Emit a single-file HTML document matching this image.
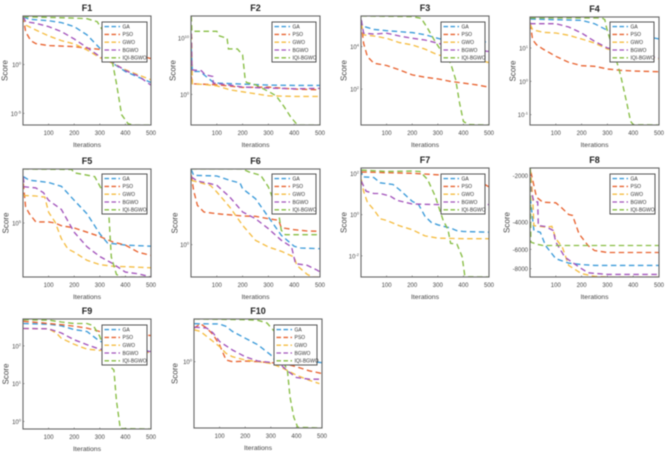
<!DOCTYPE html>
<html>
<head>
<meta charset="utf-8">
<title>Convergence curves F1-F10</title>
<style>
html,body{margin:0;padding:0;background:#fff;width:669px;height:452px;overflow:hidden}
svg{display:block;filter:blur(0.45px);font-family:"Liberation Sans",sans-serif}
</style>
</head>
<body>
<svg id="figure" xmlns="http://www.w3.org/2000/svg" width="669" height="452" viewBox="0 0 669 452"></svg>
<script>
// Shared labels
const seriesNames = ['GA','PSO','GWO','BGWO','IQI-BGWO'];
const xTickValues = [100,200,300,400,500];

// Panel values: *X = iterations; *Y = log10(score), except F8, which holds the score itself
const f1GaX=[1,25,100,150,200,250,300,350,400,450,500];
const f1GaY=[4.9,4.63,4.49,4.29,3.88,3.03,1.67,0.14,-0.71,-1.29,-1.84];
const f1PsoX=[1,10,30,50,100,200,250,300,350,400,450,500];
const f1PsoY=[4.9,3.37,2.45,2.14,1.94,1.84,1.67,1.56,1.5,1.22,0.95,0.61];
const f1GwoX=[1,10,50,100,150,200,250,300,350,400,450,500];
const f1GwoY=[4.9,4.05,3.54,2.93,2.45,2.11,1.5,0.71,0.14,-0.54,-1.05,-1.56];
const f1BgwoX=[1,10,50,100,150,200,250,300,350,400,450,500];
const f1BgwoY=[4.9,4.39,4.22,3.88,3.37,2.62,1.73,0.82,0.2,-0.61,-1.16,-2.11];
const f1IqiX=[1,100,200,250,290,310,330,350,365,385,410,430,500];
const f1IqiY=[4.9,4.83,4.76,4.69,4.39,3.54,1.84,0.14,-1.9,-5.14,-6.05,-6.19,-6.19];
const f1Ticks=[0,-5];

const f2GaX=[1,5,35,85,100,200,300,400,500];
const f2GaY=[8.47,4.06,4.06,2.2,2,1.82,1.65,1.59,1.59];
const f2PsoX=[1,5,100,200,300,400,500];
const f2PsoY=[3.18,1.88,1.7,1.24,1.29,0.94,0.82];
const f2GwoX=[1,3,5,50,100,150,200,250,300,400,500];
const f2GwoY=[13.88,7.88,1.88,1.76,1.53,0.82,0.47,0.12,-0.24,-0.35,-0.35];
const f2BgwoX=[1,4,40,55,85,86,150,200,300,400,500];
const f2BgwoY=[10.8,4.35,4.2,3.47,3.18,2,1.65,1.29,1.12,1,1.06];
const f2IqiX=[1,3,100,110,140,145,180,200,210,215,250,300,330,360,385,410,420,500];
const f2IqiY=[13.88,11.18,11.18,10.35,9.94,8.06,8.06,7,2.59,2.12,1.7,0.53,-0.24,-2.12,-3.88,-5.29,-5.41,-5.41];
const f2Ticks=[0,10];

const f3GaX=[1,5,50,100,200,250,300,350,400,500];
const f3GaY=[5.25,4.97,4.81,4.75,4.66,4.56,4.39,4.23,4.22,4.22];
const f3PsoX=[1,10,25,50,100,150,200,250,300,350,400,450,500];
const f3PsoY=[5.09,4.16,3.53,3.22,3.11,2.91,2.67,2.56,2.48,2.36,2.28,2.2,2.09];
const f3GwoX=[1,10,50,100,150,200,250,300,350,400,450,500];
const f3GwoY=[5.09,4.55,4.5,4.39,4.19,4.08,3.88,3.61,3.5,3.45,3.38,3.25];
const f3BgwoX=[1,10,50,100,150,200,250,300,350,400,450,500];
const f3BgwoY=[5.25,4.63,4.59,4.63,4.5,4.39,4.31,4.16,4,3.92,3.84,3.77];
const f3IqiX=[1,200,235,260,290,320,350,370,385,400,420,500];
const f3IqiY=[5.44,5.41,5.33,4.86,4.23,3.69,3.22,2.44,1.34,0.48,0.33,0.31];
const f3Ticks=[4,2];

const f4GaX=[1,100,200,250,300,350,400,450,500];
const f4GaY=[1.87,1.85,1.83,1.73,1.53,1.45,1.4,1.35,1.27];
const f4PsoX=[1,10,25,50,100,150,200,250,300,350,400,500];
const f4PsoY=[1.73,1.25,1.1,0.97,0.75,0.57,0.47,0.45,0.37,0.33,0.31,0.29];
const f4GwoX=[1,10,50,100,150,200,250,300,350,400,450,500];
const f4GwoY=[1.7,1.55,1.47,1.45,1.38,1.27,1.15,0.97,0.9,0.83,0.75,0.67];
const f4BgwoX=[1,5,100,150,200,250,300,350,400,450,500];
const f4BgwoY=[1.75,1.73,1.73,1.63,1.45,1.2,1,0.95,0.85,0.77,0.7];
const f4IqiX=[1,280,290,297,346,355,375,390,400,500];
const f4IqiY=[1.9,1.9,1.85,1.6,0.33,0.05,-0.65,-1.2,-1.3,-1.31];
const f4Ticks=[1,0,-1];

const f5GaX=[1,25,50,100,150,200,250,300,330,400,500];
const f5GaY=[5.86,5.79,5.78,5.75,5.68,5.42,5.17,4.8,4.63,4.59,4.57];
const f5PsoX=[1,10,25,50,100,125,150,200,250,300,350,400,450,500];
const f5PsoY=[5.73,5.3,5.17,5.02,5.02,5,4.95,4.91,4.83,4.75,4.65,4.59,4.46,4.4];
const f5GwoX=[1,50,85,100,125,150,175,200,250,300,350,400,500];
const f5GwoY=[5.51,5.5,5.48,5.2,5.02,4.71,4.52,4.46,4.31,4.23,4.2,4.19,4.17];
const f5BgwoX=[1,5,50,80,100,150,200,250,300,350,400,450,500];
const f5BgwoY=[5.85,5.67,5.65,5.56,5.42,5.25,4.83,4.56,4.38,4.25,4.09,4.06,4];
const f5IqiX=[1,190,200,280,305,335,345,365,380,500];
const f5IqiY=[6,5.99,5.93,5.86,5.64,5.17,4.37,4.05,4,4];
const f5Ticks=[5];

const f6GaX=[1,10,100,150,190,200,250,300,350,400,425,500];
const f6GaY=[1.125,1.04,1.03,0.965,0.925,0.84,0.69,0.415,0.14,-0.025,-0.05,-0.06];
const f6PsoX=[1,10,25,50,100,200,250,300,340,350,400,450,500];
const f6PsoY=[1.04,0.815,0.59,0.49,0.465,0.43,0.425,0.39,0.365,0.255,0.225,0.205,0.2];
const f6GwoX=[1,50,75,100,150,200,250,300,350,400,410,450,470,500];
const f6GwoY=[0.965,0.915,0.89,0.79,0.565,0.29,0.065,-0.035,-0.1,-0.185,-0.31,-0.445,-0.485,-0.485];
const f6BgwoX=[1,25,75,100,150,200,250,300,350,390,405,450,490,500];
const f6BgwoY=[1.015,0.955,0.915,0.89,0.715,0.49,0.39,0.24,0.065,-0.035,-0.285,-0.31,-0.385,-0.41];
const f6IqiX=[1,200,225,270,300,340,350,365,500];
const f6IqiY=[1.135,1.135,1.09,1.04,0.865,0.465,0.215,0.15,0.15];
const f6Ticks=[0];

const f7GaX=[1,5,50,75,125,150,200,225,250,275,300,350,375,400,500];
const f7GaY=[2.2,1.84,1.81,1.55,1.47,1.22,0.65,0.49,-0.08,-0.38,-0.49,-0.65,-0.78,-0.82,-0.85];
const f7PsoX=[1,25,100,200,300,350,400,450,500];
const f7PsoY=[2.07,2.07,2.04,2.01,1.94,1.94,1.88,1.71,1.35];
const f7GwoX=[1,10,25,50,75,100,150,200,250,300,400,500];
const f7GwoY=[1.71,1.14,0.6,0.24,-0.2,-0.28,-0.54,-0.73,-1.03,-1.14,-1.17,-1.17];
const f7BgwoX=[1,20,50,75,115,140,200,300,400,500];
const f7BgwoY=[1.63,1.14,1.03,1.03,0.9,0.7,0.52,0.49,0.49,0.49];
const f7IqiX=[1,100,200,230,260,290,320,340,350,375,395,405,420,500];
const f7IqiY=[2.17,2.1,2.12,2.1,1.71,0.9,-0.24,-0.73,-1.39,-1.44,-2.04,-2.94,-3.02,-3.03];
const f7Ticks=[2,0,-2];

const f8GaX=[1,15,40,60,100,150,200,250,500];
const f8GaY=[-2800,-4530,-4650,-5660,-6890,-7360,-7530,-7620,-7620];
const f8PsoX=[1,5,25,50,100,120,150,165,190,225,250,300,500];
const f8PsoY=[-2000,-1950,-2760,-2970,-3000,-3200,-3570,-3620,-4760,-5660,-6100,-6280,-6280];
const f8GwoX=[1,10,15,60,85,100,125,150,200,250,300,500];
const f8GwoY=[-1800,-2700,-4210,-4310,-4260,-5120,-5800,-7620,-8620,-8960,-9050,-9050];
const f8BgwoX=[1,5,15,30,32,60,90,100,135,190,225,300,500];
const f8BgwoY=[-2050,-2540,-2950,-2960,-4210,-4270,-4530,-5380,-6730,-7800,-8500,-8700,-8700];
const f8IqiX=[1,3,30,50,100,500];
const f8IqiY=[-1800,-5380,-5570,-5660,-5660,-5660];
const f8Ticks=[-2000,-4000,-6000,-8000];

const f9GaX=[1,100,150,200,250,300,350,450,500];
const f9GaY=[2.59,2.57,2.53,2.43,2.38,2.12,2.03,1.99,1.82];
const f9PsoX=[1,100,150,200,250,300,350,400,450,500];
const f9PsoY=[2.65,2.59,2.56,2.52,2.47,2.38,2.34,2.34,2.31,2.27];
const f9GwoX=[1,100,130,150,200,250,300,350,500];
const f9GwoY=[2.46,2.45,2.34,2.2,2.04,1.91,1.88,1.91,1.82];
const f9BgwoX=[1,100,150,200,250,300,350,500];
const f9BgwoY=[2.46,2.45,2.34,2.16,2.03,1.91,1.89,1.85];
const f9IqiX=[1,100,150,200,250,275,300,340,355,365,380,500];
const f9IqiY=[2.69,2.68,2.63,2.59,2.59,2.53,2.25,1.45,1.36,0.56,-0.19,-0.2];
const f9Ticks=[2,1,0];

const f10GaX=[1,100,125,150,200,250,300,320,350,400,450,500];
const f10GaY=[0.565,0.56,0.525,0.45,0.35,0.25,0.1,0,0,0,0.01,-0.015];
const f10PsoX=[1,25,50,75,100,125,150,200,250,300,350,400,450,500];
const f10PsoY=[0.5,0.565,0.5,0.4,0.25,0.025,0,0.01,0,-0.015,-0.025,-0.075,-0.135,-0.175];
const f10GwoX=[1,25,50,75,100,125,150,200,250,300,350,400,450,490];
const f10GwoY=[0.475,0.45,0.375,0.3,0.225,0.125,0.075,0.025,0,-0.025,-0.1,-0.2,-0.275,-0.325];
const f10BgwoX=[1,50,75,100,150,200,250,300,340,370,400,450,500];
const f10BgwoY=[0.515,0.5,0.425,0.3,0.175,0.075,0.01,-0.01,-0.05,-0.15,-0.235,-0.26,-0.26];
const f10IqiX=[1,200,250,285,320,345,365,375,390,405,500];
const f10IqiY=[0.635,0.625,0.615,0.575,0.425,0.025,-0.125,-0.525,-0.825,-0.975,-0.985];
const f10Ticks=[0];

// Series styling
const seriesColors=['#3a9ad9','#e8622f','#f5bd42','#a253bb','#86bd42'];

// Panel layout (geometry only) plus references to the data arrays above
const panels=[
 {t:'F1',l:23,r:151,top:16,bot:125,lx:102,lw:45,ly:22,sx:5,yTop:4.97,yBot:-6.19,ticks:f1Ticks,xs:[f1GaX,f1PsoX,f1GwoX,f1BgwoX,f1IqiX],ys:[f1GaY,f1PsoY,f1GwoY,f1BgwoY,f1IqiY]},
 {t:'F2',l:191,r:320,top:16,bot:125,lx:272,lw:44,ly:22,sx:173,yTop:13.88,yBot:-5.41,ticks:f2Ticks,xs:[f2GaX,f2PsoX,f2GwoX,f2BgwoX,f2IqiX],ys:[f2GaY,f2PsoY,f2GwoY,f2BgwoY,f2IqiY]},
 {t:'F3',l:361,r:489,top:16,bot:125,lx:441,lw:44,ly:22,sx:344,yTop:5.44,yBot:0.31,ticks:f3Ticks,xs:[f3GaX,f3PsoX,f3GwoX,f3BgwoX,f3IqiX],ys:[f3GaY,f3PsoY,f3GwoY,f3BgwoY,f3IqiY]},
 {t:'F4',l:530,r:659,top:17,bot:125,lx:610,lw:44,ly:22,sx:513,yTop:1.93,yBot:-1.31,ticks:f4Ticks,xs:[f4GaX,f4PsoX,f4GwoX,f4BgwoX,f4IqiX],ys:[f4GaY,f4PsoY,f4GwoY,f4BgwoY,f4IqiY]},
 {t:'F5',l:23,r:151,top:169,bot:277,lx:102,lw:45,ly:174,sx:6,yTop:6,yBot:4,ticks:f5Ticks,xs:[f5GaX,f5PsoX,f5GwoX,f5BgwoX,f5IqiX],ys:[f5GaY,f5PsoY,f5GwoY,f5BgwoY,f5IqiY]},
 {t:'F6',l:191,r:320,top:169,bot:277,lx:272,lw:44,ly:174,sx:175,yTop:1.135,yBot:-0.485,ticks:f6Ticks,xs:[f6GaX,f6PsoX,f6GwoX,f6BgwoX,f6IqiX],ys:[f6GaY,f6PsoY,f6GwoY,f6BgwoY,f6IqiY]},
 {t:'F7',l:361,r:489,top:168,bot:277,lx:441,lw:44,ly:174,sx:344,yTop:2.27,yBot:-3.03,ticks:f7Ticks,xs:[f7GaX,f7PsoX,f7GwoX,f7BgwoX,f7IqiX],ys:[f7GaY,f7PsoY,f7GwoY,f7BgwoY,f7IqiY]},
 {t:'F8',l:530,r:659,top:168,bot:277,lx:610,lw:45,ly:174,sx:507,yTop:-1786,yBot:-9050,ticks:f8Ticks,neg:true,xs:[f8GaX,f8PsoX,f8GwoX,f8BgwoX,f8IqiX],ys:[f8GaY,f8PsoY,f8GwoY,f8BgwoY,f8IqiY]},
 {t:'F9',l:23,r:151,top:319,bot:429,lx:102,lw:45,ly:325,sx:6,yTop:2.71,yBot:-0.2,ticks:f9Ticks,xs:[f9GaX,f9PsoX,f9GwoX,f9BgwoX,f9IqiX],ys:[f9GaY,f9PsoY,f9GwoY,f9BgwoY,f9IqiY]},
 {t:'F10',l:194,r:322,top:319,bot:428,lx:274,lw:43,ly:325,sx:175,yTop:0.635,yBot:-0.985,ticks:f10Ticks,xs:[f10GaX,f10PsoX,f10GwoX,f10BgwoX,f10IqiX],ys:[f10GaY,f10PsoY,f10GwoY,f10BgwoY,f10IqiY]}
];

const NS='http://www.w3.org/2000/svg';
const fig=document.getElementById('figure');
function mk(tag,attrs,parent,text){
  const el=document.createElementNS(NS,tag);
  for(const k in attrs){el.setAttribute(k,attrs[k]);}
  if(text!==undefined){el.textContent=text;}
  parent.appendChild(el);
  return el;
}
function xScale(p,it){return p.l+(it/500)*(p.r-p.l);}
function yScale(p,v){
  const f=p.neg?(u=>Math.log10(-u)):(u=>u);
  return p.top+(f(v)-f(p.yTop))/(f(p.yBot)-f(p.yTop))*(p.bot-p.top);
}

panels.forEach(function(p){
  const id=p.t.toLowerCase();
  const g=mk('g',{},fig);
  
  

  const title=mk('text',{x:(p.l+p.r)/2,y:p.top-5,'text-anchor':'middle','font-size':9,'font-weight':'bold',fill:'#222'},g,p.t);
  
  

  const clip=mk('clipPath',{id:'clip-'+id},g);
  mk('rect',{x:p.l,y:p.top,width:p.r-p.l,height:p.bot-p.top},clip);

  const plot=mk('g',{'clip-path':'url(#clip-'+id+')'},g);
  
  
  seriesNames.forEach(function(name,i){
    const pts=p.xs[i].map(function(it,j){return xScale(p,it).toFixed(1)+','+yScale(p,p.ys[i][j]).toFixed(1);}).join(' ');
    const line=mk('polyline',{points:pts,fill:'none',stroke:seriesColors[i],'stroke-width':1.35,'stroke-dasharray':'5.5 3.5'},plot);
    
    
  });

  const box=mk('rect',{x:p.l,y:p.top,width:p.r-p.l,height:p.bot-p.top,fill:'none',stroke:'#666','stroke-width':1.1},g);
  
  

  xTickValues.forEach(function(v){
    const x=xScale(p,v);
    mk('line',{x1:x,x2:x,y1:p.bot,y2:p.bot-1.5,stroke:'#666','stroke-width':0.6},g);
    const lab=mk('text',{x:x,y:p.bot+10,'text-anchor':'middle','font-size':6,fill:'#444'},g,String(v));
    
    
  });

  p.ticks.forEach(function(v){
    const y=yScale(p,v);
    mk('line',{x1:p.l,x2:p.l+1.5,y1:y,y2:y,stroke:'#666','stroke-width':0.6},g);
    const lab=mk('text',{x:p.l-2,y:y+2.5,'text-anchor':'end','font-size':6,fill:'#444'},g);
    
    
    if(p.neg){
      lab.textContent=String(v);
    }else{
      mk('tspan',{},lab,'10');
      mk('tspan',{dy:-2.5,'font-size':4},lab,String(v));
    }
  });

  const xl=mk('text',{x:(p.l+p.r)/2,y:p.bot+22,'text-anchor':'middle','font-size':6.8,fill:'#444'},g,'Iterations');
  
  

  const cy=(p.top+p.bot)/2;
  const yl=mk('text',{x:0,y:0,transform:'translate('+(p.sx+2.7)+','+cy+') rotate(-90)','text-anchor':'middle','font-size':8,fill:'#444'},g,'Score');
  
  

  const leg=mk('g',{},g);
  
  
  mk('rect',{x:p.lx,y:p.ly,width:p.lw,height:40,fill:'#fff',stroke:'#555','stroke-width':1},leg);
  seriesNames.forEach(function(name,i){
    const ey=p.ly+4.6+i*7.8;
    const entry=mk('g',{},leg);
    
    
    mk('line',{x1:p.lx+2.5,x2:p.lx+18,y1:ey,y2:ey,stroke:seriesColors[i],'stroke-width':1.35,'stroke-dasharray':'4.5 2.5'},entry);
    mk('text',{x:p.lx+20.5,y:ey+1.8,'font-size':5,fill:'#333'},entry,name);
  });
});
</script>
</body>
</html>
